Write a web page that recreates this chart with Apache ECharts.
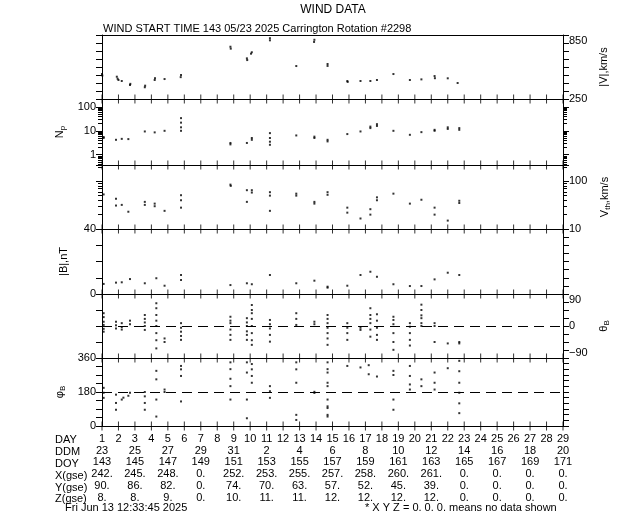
<!DOCTYPE html>
<html><head><meta charset="utf-8">
<script src="https://cdn.jsdelivr.net/npm/echarts@6/dist/echarts.min.js"></script>
<style>html,body{margin:0;padding:0;background:#fff}#c{width:640px;height:512px}</style>
</head><body><div id="c"></div>
<script>
// ---------------- data ----------------
const DOY_MIN = 143, DOY_MAX = 171;
const dayLabels = [1,2,3,4,5,6,7,8,9,10,11,12,13,14,15,16,17,18,19,20,21,22,23,24,25,26,27,28,29];
const ddmLabels = ['23','25','27','29','31','2','4','6','8','10','12','14','16','18','20'];
const doyLabels = ['143','145','147','149','151','153','155','157','159','161','163','165','167','169','171'];
const xGse = ['242.','245.','248.','0.','252.','253.','255.','257.','258.','260.','261.','0.','0.','0.','0.'];
const yGse = ['90.','86.','82.','0.','74.','70.','63.','57.','52.','45.','39.','0.','0.','0.','0.'];
const zGse = ['8.','8.','9.','0.','10.','11.','11.','12.','12.','12.','12.','0.','0.','0.','0.'];

// [day of year, value]
const speed = [[143.0,484],[143.02,470],[143.9,459],[143.95,440],[144.0,428],[144.2,419],[144.7,381],[144.72,392],[145.6,360],[145.62,375],[146.2,428],[146.22,445],[146.8,437],[147.8,475],[147.78,455],[150.8,740],[150.82,722],[151.8,631],[151.82,615],[152.1,688],[152.05,675],[153.2,820],[153.2,800],[154.8,559],[155.9,805],[155.88,785],[156.7,578],[156.7,560],[157.9,419],[157.92,410],[158.7,419],[159.3,419],[159.7,428],[160.7,484],[161.7,428],[162.4,434],[163.2,465],[163.22,445],[164.0,444],[164.6,400]];
const density = [[143.1,5.5],[143.1,5.0],[143.85,4.2],[144.2,4.6],[144.6,4.5],[145.6,9.4],[146.2,8.6],[146.8,10],[147.8,34],[147.8,22],[147.8,14],[147.8,10],[150.8,3.1],[150.8,2.7],[151.8,3.1],[152.1,5.0],[152.1,4.2],[153.2,8],[153.2,5],[153.2,3.5],[153.2,2.6],[154.8,6.4],[155.9,5.7],[155.9,5.0],[156.7,4.2],[156.7,3.6],[157.9,7.3],[158.7,9.4],[159.3,15],[159.3,13],[159.7,19],[159.7,16],[160.7,10],[161.7,6.8],[162.4,8.8],[163.2,11],[163.2,10],[164.0,14],[164.0,12],[164.7,13],[164.7,11]];
const thermal = [[143.1,53],[143.85,43],[143.85,31],[144.2,32],[144.6,23],[145.6,37],[145.6,32],[146.2,34],[146.2,30],[146.8,24],[147.8,51],[147.8,40],[147.8,28],[150.8,85],[150.82,80],[151.8,65],[151.8,37],[152.1,65],[152.1,58],[153.2,59],[153.2,50],[153.2,24],[154.8,55],[154.8,50],[155.9,37],[155.9,34],[156.7,59],[156.7,52],[157.9,28],[157.9,22],[158.7,16.6],[159.3,26],[159.3,20],[159.7,46],[159.7,40],[160.7,55],[161.7,34],[162.4,41],[163.2,28],[163.2,20],[164.0,15],[164.7,39],[164.7,35]];
const fieldMag = [[143.1,6.2],[143.85,7.0],[144.2,7.2],[144.7,9.2],[145.6,6.6],[146.3,9.7],[146.8,5.1],[147.8,11.7],[147.8,8.6],[150.8,5.5],[151.8,6.6],[152.1,6.0],[153.2,11.7],[154.8,6.6],[155.9,8.2],[156.7,3.9],[156.7,4.5],[157.9,5.1],[158.7,11.7],[159.3,13.7],[159.7,10.6],[160.7,6.0],[161.7,4.9],[162.4,4.9],[163.2,9.0],[164.0,13.1],[164.7,11.7]];
const thetaB = [
[143.1,36],[143.1,25],[143.1,12],[143.1,3],[143.1,-8],[143.1,-16],
[143.85,12],[143.85,2],[143.85,-7],[144.2,8],[144.2,-3],[144.2,-10],
[144.7,15],[144.7,5],
[145.6,31],[145.6,20],[145.6,10],[145.6,0],[145.6,-11],
[146.3,64],[146.3,50],[146.3,31],[146.3,15],[146.3,0],[146.3,-20],[146.3,-40],[146.3,-63],
[146.8,-35],[146.8,-45],
[147.8,8],[147.8,-5],[147.8,-16],[147.8,-28],[147.8,-39],
[150.8,26],[150.8,15],[150.8,8],[150.8,-10],[150.8,-25],[150.8,-39],
[151.8,22],[151.8,10],[151.8,0],[151.8,-15],[151.8,-25],[151.8,-39],
[152.1,59],[152.1,45],[152.1,36],[152.1,20],[152.1,0],[152.1,-20],[152.1,-40],[152.1,-53],
[153.2,17],[153.2,5],[153.2,-7],[153.2,-25],[153.2,-44],
[154.8,36],[154.8,20],[154.8,3],
[155.9,12],[155.9,5],
[156.7,31],[156.7,20],[156.7,8],[156.7,-5],[156.7,-20],[156.7,-35],[156.7,-53],
[157.9,8],[157.9,-5],[157.9,-20],[157.9,-39],
[158.7,-11],[158.7,-5],
[159.3,50],[159.3,31],[159.3,20],[159.3,8],[159.3,-10],[159.3,-30],
[159.7,33],[159.7,15],[159.7,-5],[159.7,-25],[159.7,-39],
[160.7,26],[160.7,17],[160.7,5],[160.7,-20],[160.7,-45],[160.7,-67],
[161.7,8],[161.7,-2],[161.7,-20],[161.7,-39],[161.7,-55],
[162.4,60],[162.4,45],[162.4,30],[162.4,22],[162.4,8],[162.4,0],
[163.2,8],[163.2,0],[163.2,-45],
[164.0,-49],[164.7,-49],[164.7,-45]
];
const phiB = [
[143.1,202],[143.1,176],[143.1,149],
[143.85,166],[143.85,122],[143.85,86],[144.2,140],[144.3,150],
[144.7,176],[144.6,160],
[145.6,180],[145.6,157],[145.6,122],[145.6,86],
[146.3,292],[146.3,247],[146.3,140],[146.3,50],
[146.8,193],[146.8,180],
[147.8,318],[147.8,300],[147.8,265],[147.8,130],
[150.8,337],[150.8,301],[150.8,250],[150.8,211],[150.8,140],
[151.8,337],[151.8,283],[151.8,140],[151.8,41],
[152.1,328],[152.1,300],[152.1,265],[152.1,229],
[153.2,211],[153.2,184],[153.2,149],
[154.8,337],[154.8,300],[154.8,229],[154.8,59],[154.8,32],
[155.9,181],[155.9,175],
[156.7,337],[156.7,301],[156.7,283],[156.7,229],[156.7,211],[156.7,140],[156.7,104],[156.7,95],[156.7,59],[156.7,50],
[157.9,318],[158.7,310],[159.2,322],[159.2,274],[159.7,262],
[160.7,292],[160.7,270],[160.7,140],[160.7,86],
[161.7,318],[161.7,265],[161.7,220],[161.7,193],
[162.4,247],[162.4,211],
[163.2,283],[163.2,229],[163.2,193],
[164.0,306],
[164.7,345],[164.7,290],[164.7,229],[164.7,176],[164.7,120],[164.7,68]
];
const npMinor = [0.4,0.5,0.6,0.7,0.8,0.9,2,3,4,5,6,7,8,9,20,30,40,50,60,70,80,90,200];
const vthMinor = [20,30,40,50,60,70,80,90,200];

// ---------------- layout / styling ----------------
const FONT = 'Liberation Sans';
const panels = [{top:35,h:64},{top:99,h:66},{top:165,h:64},{top:229,h:65},{top:294,h:64},{top:358,h:68}];
const NP = panels.length;

function merge(a,b){ const o = Array.isArray(a)?a.slice():Object.assign({},a); for(const k in b){ const v=b[k]; if(v && typeof v==='object' && !Array.isArray(v) && o[k] && typeof o[k]==='object' && !Array.isArray(o[k])) o[k]=merge(o[k],v); else o[k]=v; } return o; }

const grids=[], xAxis=[], yAxis=[], series=[];
function addX(gi,pos,opts){ xAxis.push(merge({gridIndex:gi,type:'value',min:DOY_MIN,max:DOY_MAX,interval:1,position:pos,
  axisLine:{show:true,onZero:false,lineStyle:{color:'#000',width:1}},
  axisTick:{show:false},
  axisLabel:{show:false},splitLine:{show:false}}, opts||{})); return xAxis.length-1; }
function addY(gi,pos,opts){ yAxis.push(merge({gridIndex:gi,position:pos,type:'value',
  axisLine:{show:true,onZero:false,lineStyle:{color:'#000',width:1}},
  axisTick:{show:true,inside:false,length:6,lineStyle:{color:'#000',width:1}},
  axisLabel:{show:true,color:'#000',fontFamily:FONT,fontSize:11,margin:6},
  splitLine:{show:false},nameLocation:'middle',nameRotate:90,nameGap:35,
  nameTextStyle:{color:'#000',fontFamily:FONT,fontSize:11,
    rich:{n:{fontFamily:FONT,fontSize:11,color:'#000'},s:{fontFamily:FONT,fontSize:8,color:'#000',padding:[6,0,0,0]}}}}, opts||{})); return yAxis.length-1; }
const only = list => (v => list.indexOf(v)>=0 ? (v<0 ? '\u2212'+(-v) : String(v)) : '');

// data grids (0..5) and overlay grids (6..11) carrying frame lines, day ticks and table rows
const bx=[], ly=[], ox=[], oy=[];
panels.forEach(p=>{ grids.push({left:102,right:77,top:p.top,height:p.h}); });
panels.forEach(p=>{ grids.push({left:102,right:77,top:p.top,height:p.h}); });
panels.forEach((p,i)=>{
  bx[i] = addX(i,'bottom',{axisLine:{show:false}});
  const og = NP+i;
  yAxis.push({gridIndex:og,type:'value',min:1,max:2,show:false}); oy[i] = yAxis.length-1;
  ox[i] = addX(og,'bottom');
  addX(og,'top');
});

const rows = [
  v => String(dayLabels[v-DOY_MIN]),
  v => (v-DOY_MIN)%2===0 ? ddmLabels[(v-DOY_MIN)/2] : '',
  v => (v-DOY_MIN)%2===0 ? doyLabels[(v-DOY_MIN)/2] : '',
  v => (v-DOY_MIN)%2===0 ? xGse[(v-DOY_MIN)/2] : '',
  v => (v-DOY_MIN)%2===0 ? yGse[(v-DOY_MIN)/2] : '',
  v => (v-DOY_MIN)%2===0 ? zGse[(v-DOY_MIN)/2] : ''
];
rows.forEach((f,k)=>{
  addX(2*NP-1,'bottom',{offset:Math.round(k*11.7),axisLine:{show:false},
    axisLabel:{show:true,interval:0,showMinLabel:true,showMaxLabel:true,margin:7,color:'#000',fontFamily:FONT,fontSize:11,formatter:f}});
});

ly[0] = addY(0,'left',{min:250,max:850,interval:75,axisLabel:{show:false}});
addY(0,'right',{min:250,max:850,interval:75,axisLabel:{formatter:only([250,850]),verticalAlignMaxLabel:'top'},name:'|V|,km/s',nameGap:35});
ly[1] = addY(1,'left',{type:'log',logBase:10,min:0.37,max:215,axisLabel:{showMinLabel:false,showMaxLabel:false},name:'{n|N}{s|p}',nameGap:31});
addY(1,'right',{type:'log',logBase:10,min:0.37,max:215,axisLabel:{show:false}});
addY(1,'left',{type:'log',logBase:10,min:0.37,max:215,axisLine:{show:false},axisLabel:{show:false},axisTick:{length:4,customValues:npMinor}});
addY(1,'right',{type:'log',logBase:10,min:0.37,max:215,axisLine:{show:false},axisLabel:{show:false},axisTick:{length:4,customValues:npMinor}});
ly[2] = addY(2,'left',{type:'log',logBase:10,min:10,max:219,axisLabel:{show:false}});
addY(2,'right',{type:'log',logBase:10,min:10,max:219,axisLabel:{showMaxLabel:false},name:'{n|V}{s|th}{n|,km/s}',nameGap:35});
addY(2,'left',{type:'log',logBase:10,min:10,max:219,axisLine:{show:false},axisLabel:{show:false},axisTick:{length:4,customValues:vthMinor}});
addY(2,'right',{type:'log',logBase:10,min:10,max:219,axisLine:{show:false},axisLabel:{show:false},axisTick:{length:4,customValues:vthMinor}});
ly[3] = addY(3,'left',{min:0,max:40,interval:10,axisLabel:{formatter:only([0,40])},name:'|B|,nT',nameGap:33});
addY(3,'right',{min:0,max:40,interval:5,axisLabel:{show:false}});
ly[4] = addY(4,'left',{min:-90,max:90,interval:45,axisLabel:{show:false}});
addY(4,'right',{min:-90,max:90,interval:22.5,axisLabel:{formatter:only([-90,0,90]),verticalAlignMaxLabel:'top',verticalAlignMinLabel:'bottom'},name:'{n|\u03b8}{s|B}',nameGap:34});
ly[5] = addY(5,'left',{min:0,max:360,interval:45,axisLabel:{formatter:only([0,180,360])},name:'{n|\u03c6}{s|B}',nameGap:35});
addY(5,'right',{min:0,max:360,interval:30,axisLabel:{show:false}});

const sets = [speed,density,thermal,fieldMag,thetaB,phiB];
sets.forEach((d,i)=>{
  const s = {type:'scatter',xAxisIndex:bx[i],yAxisIndex:ly[i],data:d,symbol:'rect',symbolSize:2,itemStyle:{color:'#000'},silent:true};
  if(i===4 || i===5){
    s.markLine = {silent:true,symbol:'none',label:{show:false},lineStyle:{color:'#000',width:1,type:[10,6]},data:[{yAxis: i===4 ? 0 : 180}]};
  }
  series.push(s);
});
// day tick crosses on every panel's lower edge (one per DAY label)
const dayTicks = dayLabels.map(d => [DOY_MIN + d - 1, 1]);
panels.forEach((p,i)=>{
  series.push({type:'scatter',xAxisIndex:ox[i],yAxisIndex:oy[i],data:dayTicks,symbol:'rect',symbolSize:[1,9],
    itemStyle:{color:'#000'},silent:true,clip:false,z:3});
});

const txt = (text,x,y,extra) => Object.assign({type:'text',x:x,y:y,silent:true,
  style:Object.assign({text:text,fill:'#000',font:'11px '+FONT,textAlign:'left',textVerticalAlign:'middle'},extra||{})});
const graphic = [
  txt('WIND DATA',333,10,{textAlign:'center',font:'12px '+FONT}),
  txt('WIND START TIME 143 05/23 2025 Carrington Rotation #2298',103,29),
  txt('DAY',55,440), txt('DDM',55,452), txt('DOY',55,464),
  txt('X(gse)',55,476), txt('Y(gse)',55,488), txt('Z(gse)',55,499),
  txt('Fri Jun 13 12:33:45 2025',65,508),
  txt('* X Y Z = 0. 0. 0. means no data shown',365,508)
];

const chart = echarts.init(document.getElementById('c'),null,{renderer:'canvas'});
chart.setOption({animation:false,backgroundColor:'#fff',grid:grids,xAxis:xAxis,yAxis:yAxis,series:series,graphic:graphic});
</script></body></html>
